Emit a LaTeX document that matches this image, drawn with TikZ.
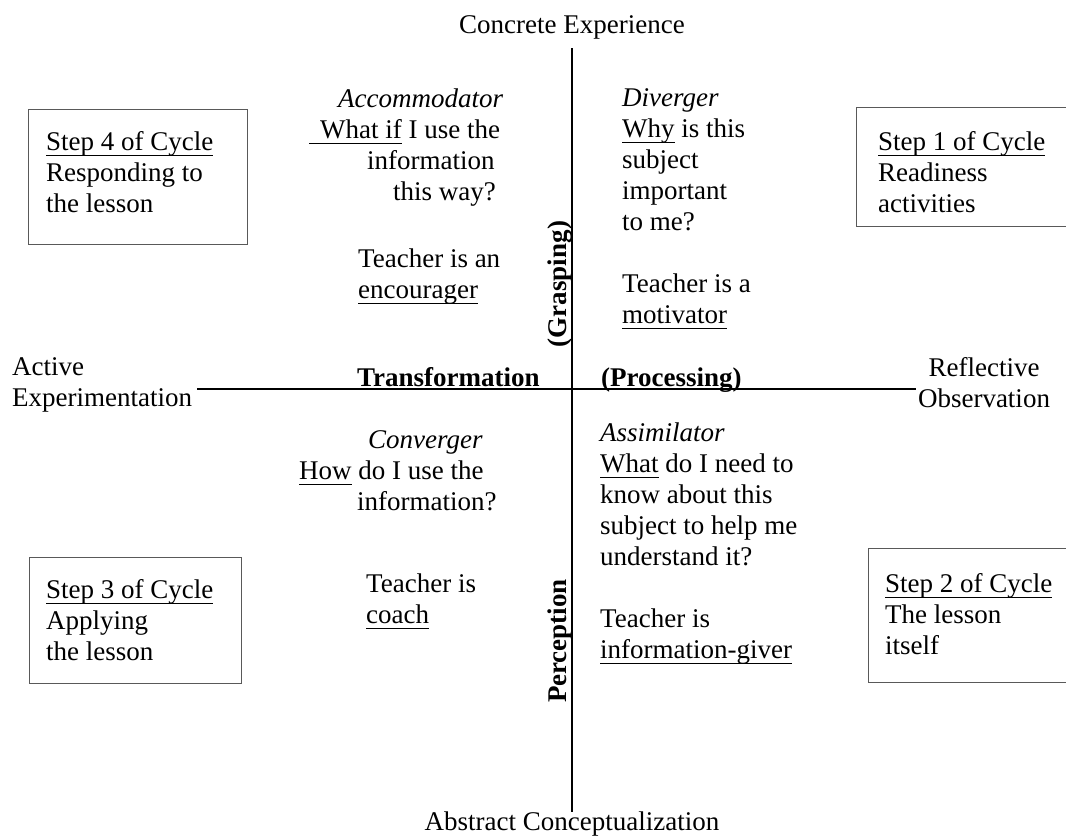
\documentclass[tikz,border=0pt]{standalone}
\usepackage{fontspec}
\setmainfont{Liberation Serif}
% underline drawn as a rule of the text's own width
\newlength{\kulw}
\newcommand{\kul}[1]{\settowidth{\kulw}{#1}\rlap{\rule[-5.9pt]{\kulw}{1.4pt}}#1}
\newcommand{\kblock}[1]{\begin{tabular}[t]{@{}l@{}}#1\end{tabular}}
\newcommand{\kcblock}[1]{\begin{tabular}[t]{@{}c@{}}#1\end{tabular}}
\tikzset{
  txt/.style={inner sep=0pt, anchor=base west, font=\fontsize{27}{31}\selectfont},
  ctxt/.style={inner sep=0pt, anchor=base, font=\fontsize{27}{31}\selectfont},
  axisline/.style={line width=2.6pt, black},
  stepbox/.style={line width=0.9pt, black!65},
  vlabel/.style={inner sep=0pt, anchor=base, rotate=90, font=\fontsize{27}{31}\selectfont\bfseries},
}
\begin{document}
\begin{tikzpicture}[x=1pt,y=-1pt]
  \useasboundingbox (0,0) rectangle (1066,839);
  \fill[white] (0,0) rectangle (1066,839);

  % the two axes
  \coordinate (top) at (572,48);
  \coordinate (bottom) at (572,812);
  \coordinate (left) at (197,389);
  \coordinate (right) at (916,389);
  \draw[axisline] (top) -- (bottom);
  \draw[axisline] (left) -- (right);

  % pole labels
  \node[ctxt] (ce) at (572,33) {Concrete Experience};
  \node[ctxt] (ac) at (572,830) {Abstract Conceptualization};
  \node[txt] (ae) at (12,375) {\kblock{Active\\Experimentation}};
  \node[ctxt] (ro) at (984,376) {\kcblock{Reflective\\Observation}};

  % axis names
  \node[txt, font=\fontsize{27}{31}\selectfont\bfseries] (tr) at (357,386) {Transformation};
  \node[txt, font=\fontsize{27}{31}\selectfont\bfseries] (pr) at (601,386) {(Processing)};
  \node[vlabel] (gr) at (566,284) {(Grasping)};
  \node[vlabel] (pe) at (566,641) {Perception};

  % accommodator quadrant
  \node[txt] (acc) at (338,107) {\textit{Accommodator}};
  \node[txt] (acc1) at (309,138) {\kul{\rule{11pt}{0pt}What if} I use the};
  \node[txt] (acc2) at (367,169) {information};
  \node[txt] (acc3) at (393,200) {this way?};
  \node[txt] (acc4) at (358,267) {\kblock{Teacher is an\\\kul{encourager}}};

  % diverger quadrant
  \node[txt] (div) at (622,106) {\kblock{\textit{Diverger}\\\kul{Why} is this\\subject\\important\\to me?\\[31pt]Teacher is a\\\kul{motivator}}};

  % converger quadrant
  \node[txt] (con) at (368,448) {\textit{Converger}};
  \node[txt] (con1) at (299,479) {\kul{How} do I use the};
  \node[txt] (con2) at (357,510) {information?};
  \node[txt] (con3) at (366,592) {\kblock{Teacher is\\\kul{coach}}};

  % assimilator quadrant
  \node[txt] (ass) at (600,441) {\kblock{\textit{Assimilator}\\\kul{What} do I need to\\know about this\\subject to help me\\understand it?\\[31pt]Teacher is\\\kul{information-giver}}};

  % steps of the cycle
  \draw[stepbox] (28,109) rectangle (247,244);
  \node[txt] (s4) at (46,150) {\kblock{\kul{Step 4 of Cycle}\\Responding to\\the lesson}};
  \draw[stepbox] (856,107) rectangle (1075,226);
  \node[txt] (s1) at (878,150) {\kblock{\kul{Step 1 of Cycle}\\Readiness\\activities}};
  \draw[stepbox] (29,557) rectangle (241,683);
  \node[txt] (s3) at (46,598) {\kblock{\kul{Step 3 of Cycle}\\Applying\\the lesson}};
  \draw[stepbox] (868,548) rectangle (1075,682);
  \node[txt] (s2) at (885,592) {\kblock{\kul{Step 2 of Cycle}\\The lesson\\itself}};
\end{tikzpicture}
\end{document}
